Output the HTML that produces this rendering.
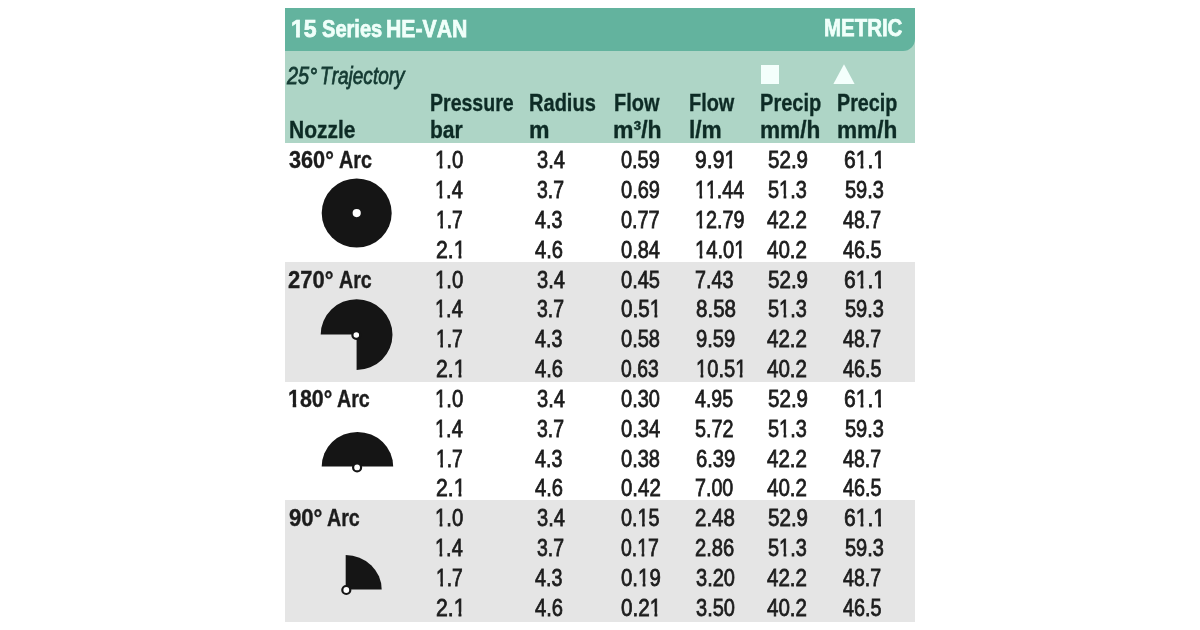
<!DOCTYPE html>
<html><head><meta charset="utf-8"><title>15 Series HE-VAN</title>
<style>
html,body{margin:0;padding:0;background:#fff;}
body{width:1200px;height:630px;position:relative;overflow:hidden;font-family:"Liberation Sans",sans-serif;}
.t{position:absolute;white-space:nowrap;line-height:1;transform-origin:0 0;font-kerning:none;color:#1c1c1c;-webkit-text-stroke:0.8px currentColor;}
.b{font-weight:bold;-webkit-text-stroke:0.35px currentColor;}
.w{-webkit-text-stroke:0.75px currentColor;}
.i{font-style:italic;}
.box{position:absolute;}
.o{display:inline-block;}
.o245{clip-path:polygon(-2px -5px,15.63px -5px,15.63px 15.77px,8.88px 15.77px,8.88px 30.50px,5.61px 30.50px,5.61px 15.77px,-2px 15.77px);}
.o24{clip-path:polygon(-2px -5px,15.35px -5px,15.35px 15.38px,9.22px 15.38px,9.22px 30.00px,5.28px 30.00px,5.28px 15.38px,-2px 15.38px);}
.o235{clip-path:polygon(-2px -5px,15.07px -5px,15.07px 14.43px,9.03px 14.43px,9.03px 29.50px,5.16px 29.50px,5.16px 14.43px,-2px 14.43px);}
.layer{position:absolute;left:0;top:0;width:1200px;height:630px;filter:blur(0.55px);}
</style></head><body><div class="layer">

<div class="box" style="left:285px;top:8px;width:630px;height:135px;background:#aed5c6;"></div>
<div class="box" style="left:285px;top:8px;width:630px;height:42.6px;background:#63b39e;border-bottom-right-radius:12px;"></div>
<div class="box" style="left:285px;top:261.7px;width:630px;height:120.69999999999999px;background:#e5e5e5;"></div>
<div class="box" style="left:285px;top:500.2px;width:630px;height:121.80000000000001px;background:#e5e5e5;"></div>
</div><div class="layer">
<span class="t b w" style="left:290.89px;top:17.00px;font-size:24px;transform:scaleX(0.9615);color:#f0fffa;"><span class="o o24">1</span>5</span>
<span class="t b w" style="left:322.31px;top:17.00px;font-size:24px;transform:scaleX(0.8364);color:#f0fffa;">Series</span>
<span class="t b w" style="left:386.42px;top:17.00px;font-size:24px;transform:scaleX(0.8848);color:#f0fffa;">HE-VAN</span>
<span class="t b w" style="left:823.96px;top:16.00px;font-size:24px;transform:scaleX(0.8518);color:#f0fffa;">METRIC</span>
<span class="t i" style="left:287.29px;top:64.00px;font-size:24.5px;transform:scaleX(0.8149);color:#143a32;">25°</span>
<span class="t i" style="left:320.10px;top:64.00px;font-size:24.5px;transform:scaleX(0.7769);color:#143a32;">Trajectory</span>
<span class="t b" style="left:289.05px;top:118.00px;font-size:24px;transform:scaleX(0.8742);color:#0d2b25;">Nozzle</span>
<span class="t b" style="left:429.84px;top:91.00px;font-size:24px;transform:scaleX(0.8140);color:#0d2b25;">Pressure</span>
<span class="t b" style="left:429.84px;top:118.00px;font-size:24px;transform:scaleX(0.8757);color:#0d2b25;">bar</span>
<span class="t b" style="left:528.81px;top:91.00px;font-size:24px;transform:scaleX(0.8353);color:#0d2b25;">Radius</span>
<span class="t b" style="left:528.73px;top:118.00px;font-size:24px;transform:scaleX(0.9600);color:#0d2b25;">m</span>
<span class="t b" style="left:613.52px;top:91.00px;font-size:24px;transform:scaleX(0.8312);color:#0d2b25;">Flow</span>
<span class="t b" style="left:613.43px;top:118.00px;font-size:24px;transform:scaleX(0.9594);color:#0d2b25;">m³/h</span>
<span class="t b" style="left:689.12px;top:91.00px;font-size:24px;transform:scaleX(0.8293);color:#0d2b25;">Flow</span>
<span class="t b" style="left:688.95px;top:118.00px;font-size:24px;transform:scaleX(0.9442);color:#0d2b25;">l/m</span>
<span class="t b" style="left:760.11px;top:91.00px;font-size:24px;transform:scaleX(0.8361);color:#0d2b25;">Precip</span>
<span class="t b" style="left:760.05px;top:118.00px;font-size:24px;transform:scaleX(0.9430);color:#0d2b25;">mm/h</span>
<span class="t b" style="left:837.13px;top:91.00px;font-size:24px;transform:scaleX(0.8221);color:#0d2b25;">Precip</span>
<span class="t b" style="left:837.05px;top:118.00px;font-size:24px;transform:scaleX(0.9430);color:#0d2b25;">mm/h</span>
<span class="t b" style="left:288.90px;top:149.00px;font-size:23.5px;transform:scaleX(0.9229);">360°</span>
<span class="t b" style="left:338.93px;top:149.00px;font-size:23.5px;transform:scaleX(0.8419);">Arc</span>
<span class="t " style="left:435.43px;top:148.00px;font-size:24.5px;transform:scaleX(0.8280);"><span class="o o245">1</span>.0</span>
<span class="t " style="left:536.59px;top:148.00px;font-size:24.5px;transform:scaleX(0.8190);">3.4</span>
<span class="t " style="left:621.19px;top:148.00px;font-size:24.5px;transform:scaleX(0.8136);">0.59</span>
<span class="t " style="left:695.40px;top:148.00px;font-size:24.5px;transform:scaleX(0.8635);">9.9<span class="o o245">1</span></span>
<span class="t " style="left:767.78px;top:148.00px;font-size:24.5px;transform:scaleX(0.8395);">52.9</span>
<span class="t " style="left:844.31px;top:148.00px;font-size:24.5px;transform:scaleX(0.8608);">6<span class="o o245">1</span>.<span class="o o245">1</span></span>
<span class="t " style="left:435.46px;top:178.00px;font-size:24.5px;transform:scaleX(0.8140);"><span class="o o245">1</span>.4</span>
<span class="t " style="left:536.60px;top:178.00px;font-size:24.5px;transform:scaleX(0.7943);">3.7</span>
<span class="t " style="left:621.19px;top:178.00px;font-size:24.5px;transform:scaleX(0.8179);">0.69</span>
<span class="t " style="left:695.49px;top:178.00px;font-size:24.5px;transform:scaleX(0.8008);"><span class="o o245">1</span><span class="o o245">1</span>.44</span>
<span class="t " style="left:767.79px;top:178.00px;font-size:24.5px;transform:scaleX(0.8119);">5<span class="o o245">1</span>.3</span>
<span class="t " style="left:844.59px;top:178.00px;font-size:24.5px;transform:scaleX(0.8162);">59.3</span>
<span class="t " style="left:435.52px;top:208.00px;font-size:24.5px;transform:scaleX(0.7849);"><span class="o o245">1</span>.7</span>
<span class="t " style="left:535.42px;top:208.00px;font-size:24.5px;transform:scaleX(0.8040);">4.3</span>
<span class="t " style="left:621.19px;top:208.00px;font-size:24.5px;transform:scaleX(0.8111);">0.77</span>
<span class="t " style="left:695.47px;top:208.00px;font-size:24.5px;transform:scaleX(0.8076);"><span class="o o245">1</span>2.79</span>
<span class="t " style="left:766.62px;top:208.00px;font-size:24.5px;transform:scaleX(0.8384);">42.2</span>
<span class="t " style="left:843.42px;top:208.00px;font-size:24.5px;transform:scaleX(0.7999);">48.7</span>
<span class="t " style="left:435.71px;top:238.00px;font-size:24.5px;transform:scaleX(0.8653);">2.<span class="o o245">1</span></span>
<span class="t " style="left:535.42px;top:238.00px;font-size:24.5px;transform:scaleX(0.8220);">4.6</span>
<span class="t " style="left:621.19px;top:238.00px;font-size:24.5px;transform:scaleX(0.8177);">0.84</span>
<span class="t " style="left:695.44px;top:238.00px;font-size:24.5px;transform:scaleX(0.8243);"><span class="o o245">1</span>4.0<span class="o o245">1</span></span>
<span class="t " style="left:766.62px;top:238.00px;font-size:24.5px;transform:scaleX(0.8384);">40.2</span>
<span class="t " style="left:843.42px;top:238.00px;font-size:24.5px;transform:scaleX(0.8092);">46.5</span>
<span class="t b" style="left:288.22px;top:269.00px;font-size:23.5px;transform:scaleX(0.9351);">270°</span>
<span class="t b" style="left:338.53px;top:269.00px;font-size:23.5px;transform:scaleX(0.8341);">Arc</span>
<span class="t " style="left:435.43px;top:268.00px;font-size:24.5px;transform:scaleX(0.8280);"><span class="o o245">1</span>.0</span>
<span class="t " style="left:536.59px;top:268.00px;font-size:24.5px;transform:scaleX(0.8190);">3.4</span>
<span class="t " style="left:620.89px;top:268.00px;font-size:24.5px;transform:scaleX(0.8183);">0.45</span>
<span class="t " style="left:694.56px;top:268.00px;font-size:24.5px;transform:scaleX(0.8042);">7.43</span>
<span class="t " style="left:767.78px;top:268.00px;font-size:24.5px;transform:scaleX(0.8395);">52.9</span>
<span class="t " style="left:844.31px;top:268.00px;font-size:24.5px;transform:scaleX(0.8608);">6<span class="o o245">1</span>.<span class="o o245">1</span></span>
<span class="t " style="left:435.46px;top:297.00px;font-size:24.5px;transform:scaleX(0.8140);"><span class="o o245">1</span>.4</span>
<span class="t " style="left:536.60px;top:297.00px;font-size:24.5px;transform:scaleX(0.7943);">3.7</span>
<span class="t " style="left:620.88px;top:297.00px;font-size:24.5px;transform:scaleX(0.8452);">0.5<span class="o o245">1</span></span>
<span class="t " style="left:695.70px;top:297.00px;font-size:24.5px;transform:scaleX(0.8395);">8.58</span>
<span class="t " style="left:767.79px;top:297.00px;font-size:24.5px;transform:scaleX(0.8119);">5<span class="o o245">1</span>.3</span>
<span class="t " style="left:844.59px;top:297.00px;font-size:24.5px;transform:scaleX(0.8162);">59.3</span>
<span class="t " style="left:435.52px;top:327.00px;font-size:24.5px;transform:scaleX(0.7849);"><span class="o o245">1</span>.7</span>
<span class="t " style="left:535.42px;top:327.00px;font-size:24.5px;transform:scaleX(0.8040);">4.3</span>
<span class="t " style="left:620.89px;top:327.00px;font-size:24.5px;transform:scaleX(0.8183);">0.58</span>
<span class="t " style="left:695.62px;top:327.00px;font-size:24.5px;transform:scaleX(0.8236);">9.59</span>
<span class="t " style="left:766.62px;top:327.00px;font-size:24.5px;transform:scaleX(0.8384);">42.2</span>
<span class="t " style="left:843.42px;top:327.00px;font-size:24.5px;transform:scaleX(0.7999);">48.7</span>
<span class="t " style="left:435.71px;top:357.00px;font-size:24.5px;transform:scaleX(0.8653);">2.<span class="o o245">1</span></span>
<span class="t " style="left:535.42px;top:357.00px;font-size:24.5px;transform:scaleX(0.8220);">4.6</span>
<span class="t " style="left:620.90px;top:357.00px;font-size:24.5px;transform:scaleX(0.7904);">0.63</span>
<span class="t " style="left:695.55px;top:357.00px;font-size:24.5px;transform:scaleX(0.8207);"><span class="o o245">1</span>0.5<span class="o o245">1</span></span>
<span class="t " style="left:766.62px;top:357.00px;font-size:24.5px;transform:scaleX(0.8384);">40.2</span>
<span class="t " style="left:843.42px;top:357.00px;font-size:24.5px;transform:scaleX(0.8092);">46.5</span>
<span class="t b" style="left:288.17px;top:388.00px;font-size:23.5px;transform:scaleX(0.9110);"><span class="o o235">1</span>80°</span>
<span class="t b" style="left:336.83px;top:388.00px;font-size:23.5px;transform:scaleX(0.8367);">Arc</span>
<span class="t " style="left:435.43px;top:387.00px;font-size:24.5px;transform:scaleX(0.8280);"><span class="o o245">1</span>.0</span>
<span class="t " style="left:536.59px;top:387.00px;font-size:24.5px;transform:scaleX(0.8190);">3.4</span>
<span class="t " style="left:620.89px;top:387.00px;font-size:24.5px;transform:scaleX(0.8166);">0.30</span>
<span class="t " style="left:694.82px;top:387.00px;font-size:24.5px;transform:scaleX(0.7986);">4.95</span>
<span class="t " style="left:767.78px;top:387.00px;font-size:24.5px;transform:scaleX(0.8395);">52.9</span>
<span class="t " style="left:844.31px;top:387.00px;font-size:24.5px;transform:scaleX(0.8608);">6<span class="o o245">1</span>.<span class="o o245">1</span></span>
<span class="t " style="left:435.46px;top:417.00px;font-size:24.5px;transform:scaleX(0.8140);"><span class="o o245">1</span>.4</span>
<span class="t " style="left:536.60px;top:417.00px;font-size:24.5px;transform:scaleX(0.7943);">3.7</span>
<span class="t " style="left:620.89px;top:417.00px;font-size:24.5px;transform:scaleX(0.8241);">0.34</span>
<span class="t " style="left:695.40px;top:417.00px;font-size:24.5px;transform:scaleX(0.8089);">5.72</span>
<span class="t " style="left:767.79px;top:417.00px;font-size:24.5px;transform:scaleX(0.8119);">5<span class="o o245">1</span>.3</span>
<span class="t " style="left:844.59px;top:417.00px;font-size:24.5px;transform:scaleX(0.8162);">59.3</span>
<span class="t " style="left:435.52px;top:447.00px;font-size:24.5px;transform:scaleX(0.7849);"><span class="o o245">1</span>.7</span>
<span class="t " style="left:535.42px;top:447.00px;font-size:24.5px;transform:scaleX(0.8040);">4.3</span>
<span class="t " style="left:620.89px;top:447.00px;font-size:24.5px;transform:scaleX(0.8183);">0.38</span>
<span class="t " style="left:695.54px;top:447.00px;font-size:24.5px;transform:scaleX(0.8254);">6.39</span>
<span class="t " style="left:766.62px;top:447.00px;font-size:24.5px;transform:scaleX(0.8384);">42.2</span>
<span class="t " style="left:843.42px;top:447.00px;font-size:24.5px;transform:scaleX(0.7999);">48.7</span>
<span class="t " style="left:435.71px;top:476.00px;font-size:24.5px;transform:scaleX(0.8653);">2.<span class="o o245">1</span></span>
<span class="t " style="left:535.42px;top:476.00px;font-size:24.5px;transform:scaleX(0.8220);">4.6</span>
<span class="t " style="left:620.88px;top:476.00px;font-size:24.5px;transform:scaleX(0.8348);">0.42</span>
<span class="t " style="left:694.56px;top:476.00px;font-size:24.5px;transform:scaleX(0.8024);">7.00</span>
<span class="t " style="left:766.62px;top:476.00px;font-size:24.5px;transform:scaleX(0.8384);">40.2</span>
<span class="t " style="left:843.42px;top:476.00px;font-size:24.5px;transform:scaleX(0.8092);">46.5</span>
<span class="t b" style="left:289.01px;top:507.00px;font-size:23.5px;transform:scaleX(0.9416);">90°</span>
<span class="t b" style="left:326.83px;top:507.00px;font-size:23.5px;transform:scaleX(0.8367);">Arc</span>
<span class="t " style="left:435.43px;top:506.00px;font-size:24.5px;transform:scaleX(0.8280);"><span class="o o245">1</span>.0</span>
<span class="t " style="left:536.59px;top:506.00px;font-size:24.5px;transform:scaleX(0.8190);">3.4</span>
<span class="t " style="left:620.90px;top:506.00px;font-size:24.5px;transform:scaleX(0.8097);">0.<span class="o o245">1</span>5</span>
<span class="t " style="left:694.53px;top:506.00px;font-size:24.5px;transform:scaleX(0.8366);">2.48</span>
<span class="t " style="left:767.78px;top:506.00px;font-size:24.5px;transform:scaleX(0.8395);">52.9</span>
<span class="t " style="left:844.31px;top:506.00px;font-size:24.5px;transform:scaleX(0.8608);">6<span class="o o245">1</span>.<span class="o o245">1</span></span>
<span class="t " style="left:435.46px;top:536.00px;font-size:24.5px;transform:scaleX(0.8140);"><span class="o o245">1</span>.4</span>
<span class="t " style="left:536.60px;top:536.00px;font-size:24.5px;transform:scaleX(0.7943);">3.7</span>
<span class="t " style="left:620.90px;top:536.00px;font-size:24.5px;transform:scaleX(0.7938);">0.<span class="o o245">1</span>7</span>
<span class="t " style="left:694.54px;top:536.00px;font-size:24.5px;transform:scaleX(0.8236);">2.86</span>
<span class="t " style="left:767.79px;top:536.00px;font-size:24.5px;transform:scaleX(0.8119);">5<span class="o o245">1</span>.3</span>
<span class="t " style="left:844.59px;top:536.00px;font-size:24.5px;transform:scaleX(0.8162);">59.3</span>
<span class="t " style="left:435.52px;top:566.00px;font-size:24.5px;transform:scaleX(0.7849);"><span class="o o245">1</span>.7</span>
<span class="t " style="left:535.42px;top:566.00px;font-size:24.5px;transform:scaleX(0.8040);">4.3</span>
<span class="t " style="left:620.88px;top:566.00px;font-size:24.5px;transform:scaleX(0.8330);">0.<span class="o o245">1</span>9</span>
<span class="t " style="left:695.79px;top:566.00px;font-size:24.5px;transform:scaleX(0.8166);">3.20</span>
<span class="t " style="left:766.62px;top:566.00px;font-size:24.5px;transform:scaleX(0.8384);">42.2</span>
<span class="t " style="left:843.42px;top:566.00px;font-size:24.5px;transform:scaleX(0.7999);">48.7</span>
<span class="t " style="left:435.71px;top:596.00px;font-size:24.5px;transform:scaleX(0.8653);">2.<span class="o o245">1</span></span>
<span class="t " style="left:535.42px;top:596.00px;font-size:24.5px;transform:scaleX(0.8220);">4.6</span>
<span class="t " style="left:620.88px;top:596.00px;font-size:24.5px;transform:scaleX(0.8452);">0.2<span class="o o245">1</span></span>
<span class="t " style="left:695.79px;top:596.00px;font-size:24.5px;transform:scaleX(0.8166);">3.50</span>
<span class="t " style="left:766.62px;top:596.00px;font-size:24.5px;transform:scaleX(0.8384);">40.2</span>
<span class="t " style="left:843.42px;top:596.00px;font-size:24.5px;transform:scaleX(0.8092);">46.5</span>
<div class="box" style="left:761.4px;top:65px;width:17.6px;height:18.8px;background:#f4fffc;"></div>
<svg class="box" style="left:830px;top:60px" width="30" height="30" viewBox="830 60 30 30"><path d="M844 64.3 L854.6 83.9 L833.4 83.9 Z" fill="#f4fffc"/></svg>
<svg class="box" style="left:0;top:0" width="1200" height="630" viewBox="0 0 1200 630">
<g fill="#151515">
<ellipse cx="356.7" cy="213" rx="35" ry="34.6"/>
<path d="M356.6 334.4 L356.6 370 A35.9 35.4 0 1 0 320.7 334.4 Z"/>
<path d="M321.7 466.6 A35.7 34.6 0 0 1 393.2 466.6 Z"/>
<path d="M345.7 555.1 A36 34.4 0 0 1 381.7 589.5 L345.7 589.5 Z"/>
</g>
<g fill="#fff" stroke="#151515" stroke-width="2.2">
<circle cx="356.7" cy="213.1" r="4.1" stroke="none"/>
<circle cx="356.3" cy="335" r="3.9"/>
<circle cx="357.1" cy="467.4" r="4"/>
<circle cx="346.3" cy="590" r="4"/>
</g>
</svg>
</div></body></html>
